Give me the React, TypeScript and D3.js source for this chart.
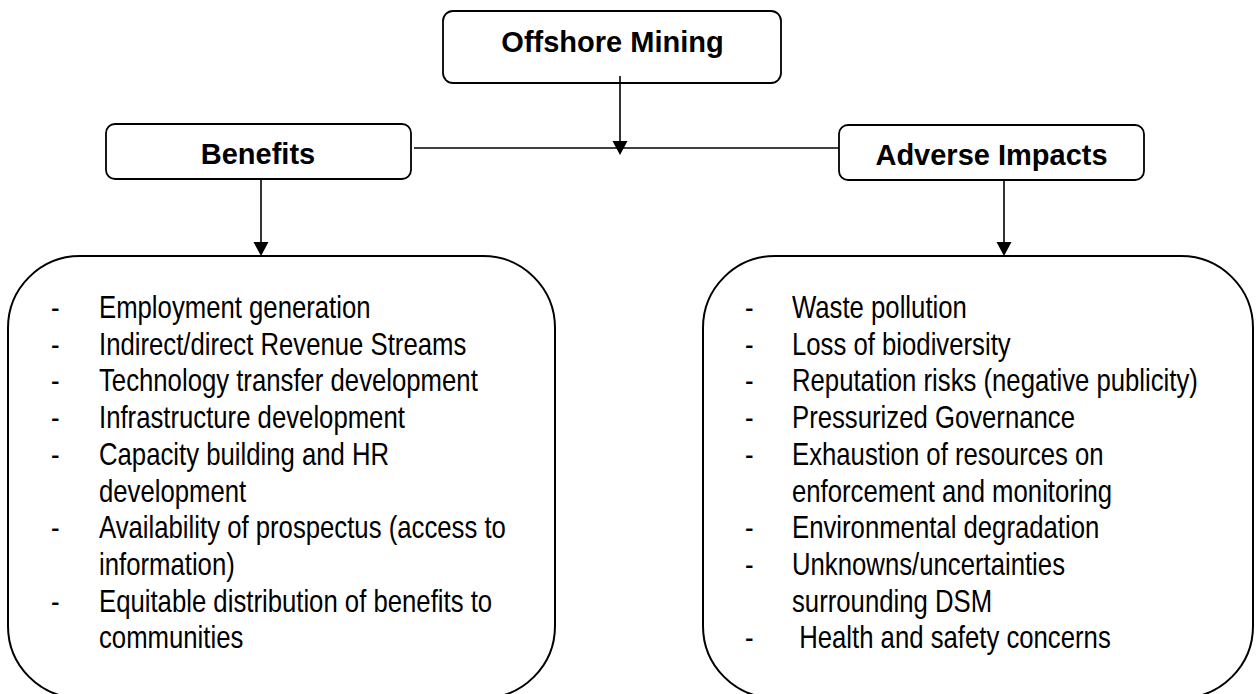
import React from "react";
import * as d3 from "d3";

const rootTitle = "Offshore Mining";
const branchTitles = ["Benefits", "Adverse Impacts"];
const benefitItems: string[][] = [
  ["Employment generation"],
  ["Indirect/direct Revenue Streams"],
  ["Technology transfer development"],
  ["Infrastructure development"],
  ["Capacity building and HR", "development"],
  ["Availability of prospectus (access to", "information)"],
  ["Equitable distribution of benefits to", "communities"],
];
const impactItems: string[][] = [
  ["Waste pollution"],
  ["Loss of biodiversity"],
  ["Reputation risks (negative publicity)"],
  ["Pressurized Governance"],
  ["Exhaustion of resources on", "enforcement and monitoring"],
  ["Environmental degradation"],
  ["Unknowns/uncertainties", "surrounding DSM"],
  [" Health and safety concerns"],
];

const W = 1260;
const H = 694;
const LINE_FONT = "'Liberation Sans', Arial, Helvetica, sans-serif";

function layoutLines(items: string[][]) {
  const out: { text: string; idx: number; first: boolean }[] = [];
  let i = 0;
  items.forEach((lines) => {
    lines.forEach((t, j) => {
      out.push({ text: t, idx: i, first: j === 0 });
      i++;
    });
  });
  return out;
}

function Arrow({ x, y0, y1 }: { x: number; y0: number; y1: number }) {
  const headH = 14;
  const headW = 15;
  const p = d3.path();
  p.moveTo(x - headW / 2, y1 - headH);
  p.lineTo(x + headW / 2, y1 - headH);
  p.lineTo(x, y1);
  p.closePath();
  return (
    <g>
      <line x1={x} y1={y0} x2={x} y2={y1 - headH + 1} stroke="#000" strokeWidth={1.6} />
      <path d={p.toString()} fill="#000" />
    </g>
  );
}

function ListBox({
  x, y, w, h, items, dashX, textX,
}: {
  x: number; y: number; w: number; h: number; items: string[][]; dashX: number; textX: number;
}) {
  const lines = layoutLines(items);
  const yScale = d3.scaleLinear().domain([0, lines.length - 1]).range([318, 318 + 36.7 * (lines.length - 1)]);
  return (
    <g>
      <rect x={x} y={y} width={w} height={h} rx={72} ry={72} fill="#fff" stroke="#000" strokeWidth={2} />
      {lines.map((l, k) => (
        <g key={k}>
          {l.first && (
            <text
              transform={`translate(${dashX},${yScale(l.idx)}) scale(0.83,1)`}
              fontFamily={LINE_FONT}
              fontSize={31}
              fill="#000"
            >
              -
            </text>
          )}
          <text
            transform={`translate(${textX},${yScale(l.idx)}) scale(0.83,1)`}
            fontFamily={LINE_FONT}
            fontSize={31}
            fill="#000"
            style={{ whiteSpace: "pre" }}
          >
            {l.text}
          </text>
        </g>
      ))}
    </g>
  );
}

export default function App() {
  const headerFont = "'Liberation Sans', Arial, Helvetica, sans-serif";
  return (
    <svg
      width={W}
      height={H}
      viewBox={`0 0 ${W} ${H}`}
      style={{ position: "fixed", left: 0, top: 0, background: "#fff", display: "block" }}
    >
      <rect x={0} y={0} width={W} height={H} fill="#fff" />
      {/* big boxes */}
      <ListBox x={8} y={256} w={547} h={442} items={benefitItems} dashX={51} textX={99} />
      <ListBox x={703} y={256} w={550} h={442} items={impactItems} dashX={745} textX={792} />

      {/* connector */}
      <line x1={414} y1={148} x2={839} y2={148} stroke="#000" strokeWidth={1.6} />

      {/* root */}
      <rect x={443} y={11} width={338} height={72} rx={10} ry={10} fill="#fff" stroke="#000" strokeWidth={1.8} />
      <text x={612.5} y={52} textAnchor="middle" fontFamily={headerFont} fontWeight="bold" fontSize={29} fill="#000">
        {rootTitle}
      </text>
      <Arrow x={620} y0={76} y1={155} />

      {/* branches */}
      <rect x={106} y={124} width={305} height={55} rx={9} ry={9} fill="#fff" stroke="#000" strokeWidth={1.8} />
      <text x={258} y={163.5} textAnchor="middle" fontFamily={headerFont} fontWeight="bold" fontSize={29} fill="#000">
        {branchTitles[0]}
      </text>
      <rect x={839} y={125} width={305} height={55} rx={9} ry={9} fill="#fff" stroke="#000" strokeWidth={1.8} />
      <text x={991.5} y={164.5} textAnchor="middle" fontFamily={headerFont} fontWeight="bold" fontSize={29} fill="#000">
        {branchTitles[1]}
      </text>
      <Arrow x={261} y0={179} y1={256} />
      <Arrow x={1004} y0={180} y1={256} />
    </svg>
  );
}
